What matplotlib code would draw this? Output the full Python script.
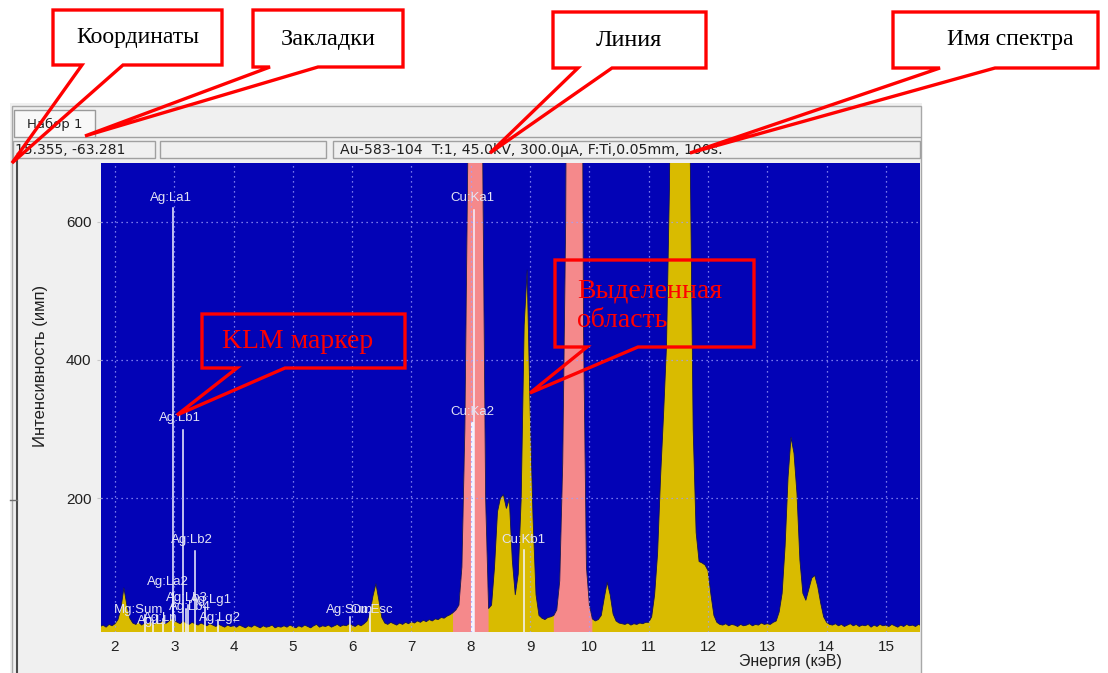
import numpy as np
import matplotlib
matplotlib.use('Agg')
import matplotlib.pyplot as plt
from matplotlib.patches import Polygon, Rectangle

# spectrum, counts per 0.05 keV channel starting at 1.75 keV
start_kev = 1.75
step_kev = 0.05
counts = [
    14, 16, 13, 17, 15,
    18, 24, 40, 70, 45, 26, 19, 17, 20, 16, 19, 18, 21, 17, 20, 19, 22, 18, 21, 25,  # 2
    23, 20, 18, 22, 19, 17, 20, 18, 16, 19, 17, 15, 18, 16, 14, 17, 15, 13, 16, 14,  # 3
    15, 13, 16, 14, 12, 15, 13, 16, 14, 12, 15, 13, 14, 16, 12, 14, 13, 15, 13, 16,  # 4
    14, 12, 15, 13, 16, 14, 12, 15, 17, 13, 15, 14, 16, 13, 15, 17, 14, 16, 15, 18,  # 5
    16, 14, 17, 15, 18, 22, 34, 58, 76, 52, 27, 19, 17, 20, 18, 16, 19, 17, 20, 18,  # 6
    21, 19, 22, 20, 23, 21, 24, 22, 25, 24, 27, 26, 29, 31, 34, 38, 45, 100, 300, 700,  # 7
    1600, 2600, 2600, 1800, 700, 200, 40, 45, 100, 180, 200, 205, 185, 198, 110, 60, 90, 200, 450, 530,  # 8
    330, 170, 60, 30, 26, 24, 27, 28, 30, 38, 80, 250, 600, 1500, 2500, 2600, 2500, 1500, 450, 100,  # 9
    45, 25, 22, 24, 30, 55, 78, 60, 32, 22, 19, 18, 17, 19, 16, 18, 17, 19, 18, 20,  # 10
    20, 28, 60, 120, 230, 320, 420, 650, 1200, 2000, 2600, 2600, 2500, 1800, 700, 300, 150, 108, 106, 103,  # 11
    95, 60, 30, 20, 17, 16, 18, 15, 17, 16, 14, 17, 15, 16, 18, 15, 17, 16, 19, 17,  # 12
    18, 17, 20, 22, 35, 62, 130, 230, 288, 265, 207, 110, 62, 52, 68, 84, 88, 72, 48, 28,  # 13
    20, 17, 16, 18, 15, 17, 14, 16, 18, 15, 17, 14, 16, 15, 17, 13, 16, 14, 17, 15,  # 14
    16, 14, 17, 15, 13, 16, 14, 17, 15, 16, 14, 17, 15,  # 15
]

# selected regions (keV)
roi_lo = [7.70, 9.40]
roi_hi = [8.30, 10.05]

# KLM markers
klm_labels = ['Ag:La1', 'Ag:Lb1', 'Ag:Lb2', 'Ag:La2', 'Ag:Lb3', 'Ag:Lb4', 'Ag:Lg1', 'Mg:Sum',
              'Ag:Ln', 'Ag:Ll', 'Ag:Lg2', 'Ag:Sum', 'Cu:Esc', 'Cu:Ka1', 'Cu:Ka2', 'Cu:Kb1']
klm_energy = [2.984, 3.151, 3.348, 2.978, 3.234, 3.203, 3.519, 2.51,
              2.806, 2.634, 3.743, 5.968, 6.30, 8.048, 8.028, 8.905]
klm_height = [620, 298, 123, 62, 45, 40, 42, 30, 25, 22, 24, 27, 35, 617, 309, 125]
klm_label_x = [2.95, 3.10, 3.30, 2.90, 3.21, 3.26, 3.62, 2.40,
               2.76, 2.62, 3.77, 5.95, 6.33, 8.03, 8.02, 8.88]
klm_label_y = [635, 316, 139, 78, 55, 42, 52, 38, 26, 22, 26, 38, 38, 635, 325, 139]

x_ticks = list(range(2, 16))
y_ticks = [200, 400, 600]

BLUE = '#0303b6'
YELLOW = '#d9bb00'
PINK = '#f5898b'
RED = '#ff0000'
SANS = 'Liberation Sans'
SERIF = 'Liberation Serif'
UI = 'DejaVu Sans'

energy = start_kev + step_kev * np.arange(len(counts))
counts = np.array(counts, dtype=float)

fig = plt.figure(figsize=(11.08, 6.73), dpi=100)
fig.patch.set_facecolor('white')

# window background (pixel coordinates)
bg = fig.add_axes([0, 0, 1, 1], zorder=0)
bg.set_xlim(0, 1108)
bg.set_ylim(673, 0)
bg.axis('off')
bg.add_patch(Rectangle((10, 103), 912, 575, fc='#f0f0f0', ec='none'))
bg.add_patch(Rectangle((12, 106), 909, 570, fc='none', ec='#a8a8a8', lw=1))
bg.add_patch(Rectangle((14, 110), 81, 27, fc='#f8f8f8', ec='#9a9a9a', lw=1))
bg.plot([95, 920], [137, 137], color='#a0a0a0', lw=1)
for x0, w in [(13, 142), (160, 166), (333, 587)]:
    bg.add_patch(Rectangle((x0, 141), w, 17, fc='#f0f0f0', ec='#a0a0a0', lw=1))
bg.plot([17, 17], [160, 673], color='#4a4a4a', lw=1.5)
bg.plot([10, 17], [500, 500], color='#707070', lw=1)
bg.text(27, 124, 'Набор 1', fontsize=9.5, family=UI, va='center', color='#202020')
bg.text(15, 150, '15.355, -63.281', fontsize=10, family=UI, va='center', color='#202020')
bg.text(340, 150, 'Au-583-104  T:1, 45.0kV, 300.0µA, F:Ti,0.05mm, 100s.',
        fontsize=10.2, family=UI, va='center', color='#202020')

# spectrum plot
L, R, T, B = 101, 920, 163, 632
ax = fig.add_axes([L / 1108, 1 - B / 673, (R - L) / 1108, (B - T) / 673], zorder=1)
ax.set_facecolor(BLUE)
ax.fill_between(energy, 0, counts, color=YELLOW, lw=0)
for lo, hi in zip(roi_lo, roi_hi):
    m = (energy >= lo - 1e-6) & (energy <= hi + 1e-6)
    ax.fill_between(energy[m], 0, counts[m], color=PINK, lw=0)
ax.plot(energy, counts, color='#10105a', lw=0.6)

for name, e, h in zip(klm_labels, klm_energy, klm_height):
    ax.plot([e, e], [0, h], color='#f4f4ff', lw=2.2 if name == 'Cu:Ka2' else 1.1)
for name, lx, ly in zip(klm_labels, klm_label_x, klm_label_y):
    ax.text(lx, ly, name, color='#e4e4f4', fontsize=9.5, family=SANS, ha='center', va='center')

ax.set_xlim(1.764, 15.575)
ax.set_ylim(6, 685)
ax.set_xticks(x_ticks)
ax.set_yticks(y_ticks)
ax.grid(True, color='#a0a0ff', ls=(0, (1, 3)), lw=0.9)
ax.set_axisbelow(False)
for s in ax.spines.values():
    s.set_visible(False)
ax.tick_params(axis='x', length=0, pad=6, labelsize=11, labelcolor='#202020')
ax.tick_params(axis='y', length=3, color='#c8c8c8', pad=4, labelsize=11, labelcolor='#202020')
for lab in ax.get_xticklabels() + ax.get_yticklabels():
    lab.set_family(SANS)
ax.set_xlabel('Энергия (кэВ)', fontsize=11.5, family=SANS, color='#202020')
ax.set_ylabel('Интенсивность (имп)', fontsize=12, family=SANS, color='#202020')
ax.xaxis.set_label_coords((790 - L) / (R - L), (B - 654) / (B - T))
ax.yaxis.set_label_coords((48 - L) / (R - L), (B - 366) / (B - T))

# callouts
fg = fig.add_axes([0, 0, 1, 1], zorder=5)
fg.set_xlim(0, 1108)
fg.set_ylim(673, 0)
fg.axis('off')
fg.patch.set_alpha(0)


def callout(box, att, tip):
    x0, y0, x1, y1 = box
    pts = [(x0, y0), (x1, y0), (x1, y1), (att[1], y1), tip, (att[0], y1), (x0, y1)]
    fg.add_patch(Polygon(pts, closed=True, fc='none', ec=RED, lw=2.4, joinstyle='miter'))


callout((53, 10, 222, 65), (82, 123), (12, 163))
fg.text(138, 38, 'Координаты', fontsize=17, family=SERIF, ha='center', va='center', color='black')
callout((253, 10, 403, 67), (270, 318), (85, 136))
fg.text(328, 40, 'Закладки', fontsize=17.5, family=SERIF, ha='center', va='center', color='black')
callout((553, 12, 706, 68), (578, 612), (490, 153))
fg.text(629, 40, 'Линия', fontsize=17.5, family=SERIF, ha='center', va='center', color='black')
callout((893, 12, 1098, 68), (940, 995), (690, 153))
fg.text(1010, 40, 'Имя спектра', fontsize=17, family=SERIF, ha='center', va='center', color='black')
callout((202, 314, 405, 368), (237, 285), (177, 415))
fg.text(298, 342, 'KLM маркер', fontsize=20, family=SERIF, ha='center', va='center', color=RED)
callout((555, 260, 754, 347), (587, 638), (530, 393))
fg.text(577, 306, 'Выделенная\nобласть', fontsize=20, family=SERIF, ha='left', va='center',
        color=RED, linespacing=1.25)

fig.savefig('out.png', dpi=100)
